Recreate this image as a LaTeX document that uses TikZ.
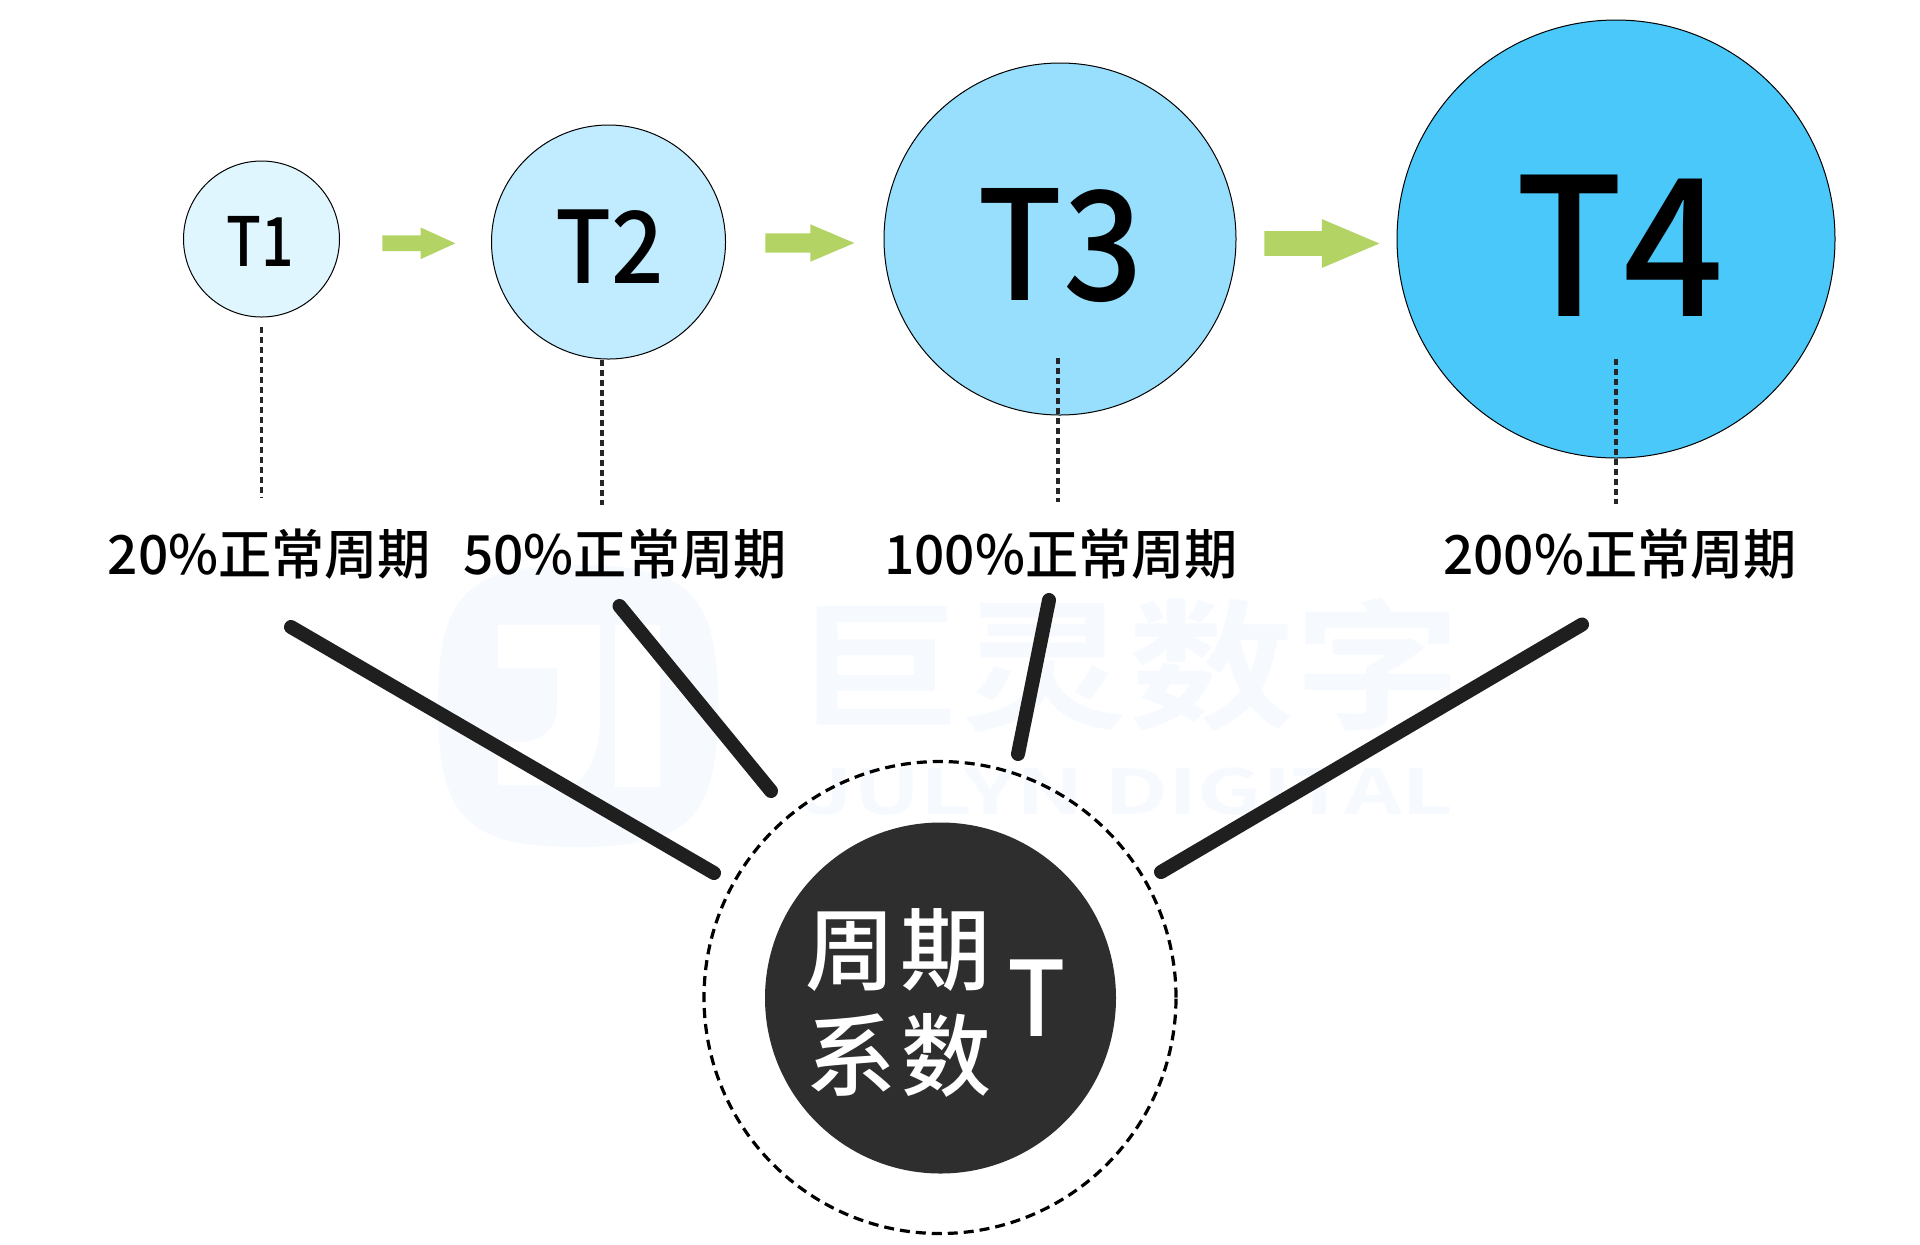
\documentclass[tikz,border=0pt]{standalone}
\usepackage{fontspec}
\usepackage{graphicx}
\setmainfont{Noto Sans CJK SC Medium}
\newfontfamily\wmfont{Noto Sans CJK SC Bold}
\definecolor{wm}{HTML}{F6FAFF}
\definecolor{tone}{HTML}{E0F6FF}
\definecolor{ttwo}{HTML}{C1ECFF}
\definecolor{tthree}{HTML}{97DFFC}
\definecolor{tfour}{HTML}{4BC8FA}
\definecolor{arrowgreen}{HTML}{B3D465}
\definecolor{darkfill}{HTML}{2E2E2E}
\definecolor{spoke}{HTML}{1F1F1F}
\usetikzlibrary{shapes.arrows}
\newcommand{\narrow}[2][0.92]{\scalebox{#1}[1]{#2}}
\tikzset{
  x=0.5pt,y=-0.5pt,
  disc/.style={circle,draw=black,line width=0.5pt,inner sep=0pt},
  pnt/.style={inner sep=0pt,outer sep=0pt},
  lab/.style={pnt,font=\fontsize{27}{32}\selectfont},
  flow/.style={single arrow,draw=none,fill=arrowgreen,inner sep=0pt,anchor=tail,single arrow head indent=0pt,text depth=0pt,text width=0pt},
  guide/.style={line width=1.6pt,color=black!85,dash pattern=on 3pt off 2pt},
  spokeline/.style={line width=7pt,color=spoke,line cap=round},
}
\begin{document}
\begin{tikzpicture}
\useasboundingbox (0,0) rectangle (1920,1244);
\fill[white] (0,0) rectangle (1920,1244);
% watermark logo
\fill[wm] (578,565) .. controls (690,565) and (718,595) .. (718,706)
  .. controls (718,817) and (690,847) .. (578,847)
  .. controls (466,847) and (438,817) .. (438,706)
  .. controls (438,595) and (466,565) .. (578,565) -- cycle;
\fill[white] (498,625) -- (600,625) -- (600,720)
  .. controls (600,755) and (585,785) .. (567,785) -- (498,785) -- (498,742) -- (520,742)
  .. controls (542,742) and (557,728) .. (557,707) -- (557,668) -- (498,668) -- cycle;
\fill[white] (615,625) rectangle (660,787);
\node[pnt,text=wm] (wm1) at (1128,665) {\fontsize{80}{90}\selectfont\scalebox{1.04}[0.88]{\wmfont 巨灵数字}};
\node[pnt,text=wm] (wm2) at (1128,792) {\fontsize{31}{36}\selectfont\scalebox{1.45}[1]{\wmfont JULYN DIGITAL}};
% circles
\node[disc,fill=tone,minimum size=78pt] (c1) at (261.5,239) {};
\node[disc,fill=ttwo,minimum size=117pt] (c2) at (608.5,242) {};
\node[disc,fill=tthree,minimum size=176pt] (c3) at (1060,239) {};
\node[disc,fill=tfour,minimum size=219pt] (c4) at (1616,239) {};
\node[pnt] (t1) at (260,241.7) {\fontsize{34}{40}\selectfont\narrow[0.84]{T1}};
\node[pnt] (t2) at (610,247) {\fontsize{50}{60}\selectfont\narrow{T2}};
\node[pnt] (t3) at (1060.5,246) {\fontsize{76}{90}\selectfont\narrow{T3}};
\node[pnt] (t4) at (1619.5,245.5) {\fontsize{96}{110}\selectfont\narrow{T4}};
% arrows
\node[flow,text height=7.5pt,minimum height=36.5pt,single arrow head extend=4pt,single arrow tip angle=49] (a1) at (382,243.3) {};
\node[flow,text height=9.3pt,minimum height=44.5pt,single arrow head extend=4.5pt,single arrow tip angle=46] (a2) at (765,243) {};
\node[flow,text height=12pt,minimum height=57.5pt,single arrow head extend=6pt,single arrow tip angle=46] (a3) at (1264,243.5) {};
% labels
\node[lab] (l1) at (269.5,554) {\scalebox{0.985}[1]{20\%正常周期}};
\node[lab] (l2) at (625,554) {\scalebox{0.985}[1]{50\%正常周期}};
\node[lab] (l3) at (1061,554) {\scalebox{0.985}[1]{100\%正常周期}};
\node[lab] (l4) at (1620,554) {\scalebox{0.985}[1]{200\%正常周期}};
% dashed guides
\coordinate (g1a) at (261.5,327); \coordinate (g1b) at (261.5,498);
\coordinate (g2a) at (602,360);   \coordinate (g2b) at (602,505);
\coordinate (g3a) at (1058,358);  \coordinate (g3b) at (1058,502);
\coordinate (g4a) at (1616,359);  \coordinate (g4b) at (1616,504);
\draw[guide] (g1a) -- (g1b);
\draw[guide] (g2a) -- (g2b);
\draw[guide] (g3a) -- (g3b);
\draw[guide] (g4a) -- (g4b);
% central
\node[circle,draw=black,line width=1.6pt,dash pattern=on 5pt off 3pt,minimum size=236pt,inner sep=0pt] (ring) at (940,997.5) {};
\node[circle,fill=darkfill,minimum size=175.5pt,inner sep=0pt] (core) at (940.5,998) {};
\node[pnt,text=white] (core1) at (898,950) {\fontsize{45}{52}\selectfont 周\hspace{2.5pt}期};
\node[pnt,text=white] (core2) at (899,1055) {\fontsize{45}{52}\selectfont 系\hspace{2.5pt}数};
\node[pnt,text=white] (coreT) at (1036.5,998) {\fontsize{52}{60}\selectfont\narrow{T}};
% spokes
\coordinate (s1a) at (291,627);  \coordinate (s1b) at (714,873);
\coordinate (s2a) at (619.5,606);\coordinate (s2b) at (771,791);
\coordinate (s3a) at (1049,600); \coordinate (s3b) at (1018,754);
\coordinate (s4a) at (1582,624.5);\coordinate (s4b) at (1161,872);
\draw[spokeline] (s1a) -- (s1b);
\draw[spokeline] (s2a) -- (s2b);
\draw[spokeline] (s3a) -- (s3b);
\draw[spokeline] (s4a) -- (s4b);
\end{tikzpicture}
\end{document}
